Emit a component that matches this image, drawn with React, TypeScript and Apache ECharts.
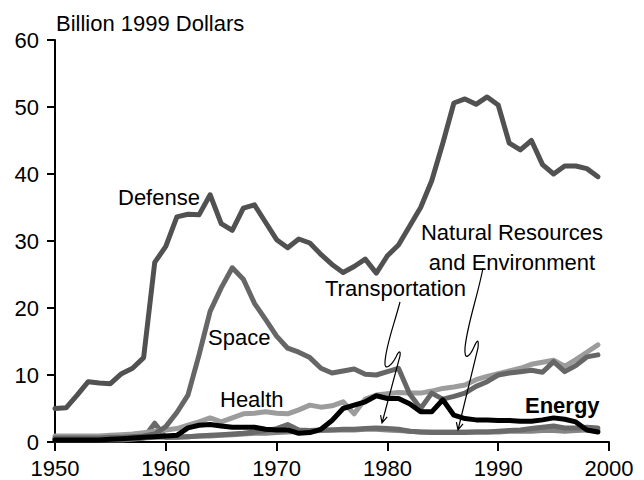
import React, { useEffect, useRef } from "react";
import * as echarts from "echarts";

const years = [
  1950, 1951, 1952, 1953, 1954, 1955, 1956, 1957, 1958, 1959,
  1960, 1961, 1962, 1963, 1964, 1965, 1966, 1967, 1968, 1969,
  1970, 1971, 1972, 1973, 1974, 1975, 1976, 1977, 1978, 1979,
  1980, 1981, 1982, 1983, 1984, 1985, 1986, 1987, 1988, 1989,
  1990, 1991, 1992, 1993, 1994, 1995, 1996, 1997, 1998, 1999,
];

const defense = [
  5.0, 5.1, 7.0, 9.0, 8.8, 8.7, 10.2, 11.0, 12.6, 26.8,
  29.2, 33.6, 34.0, 33.9, 36.9, 32.6, 31.6, 34.9, 35.4, 32.8,
  30.2, 29.0, 30.3, 29.7, 28.0, 26.5, 25.3, 26.2, 27.3, 25.2,
  27.8, 29.4, 32.2, 35.0, 39.0, 44.6, 50.6, 51.2, 50.4, 51.5,
  50.3, 44.6, 43.6, 45.0, 41.4, 40.0, 41.2, 41.2, 40.8, 39.6,
];

const space = [
  0.6, 0.6, 0.6, 0.6, 0.6, 0.7, 0.7, 0.8, 0.9, 1.2,
  2.3, 4.4, 7.0, 13.0, 19.5, 23.0, 26.0, 24.3, 20.7, 18.3,
  15.8, 14.0, 13.4, 12.6, 11.0, 10.3, 10.6, 10.9, 10.1, 10.0,
  10.5, 11.0, 7.2, 5.0, 7.3, 6.4, 6.8, 7.3, 8.3, 9.0,
  10.0, 10.3, 10.5, 10.7, 10.4, 12.0, 10.5, 11.4, 12.7, 13.0,
];

const health = [
  0.9, 0.9, 0.9, 0.9, 0.9, 1.0, 1.1, 1.2, 1.4, 1.6,
  1.8, 2.0, 2.5, 3.0, 3.6, 3.0, 3.6, 4.2, 4.3, 4.5,
  4.3, 4.2, 4.8, 5.5, 5.2, 5.4, 6.0, 4.2, 6.4, 7.0,
  7.2, 7.4, 7.3, 7.3, 7.6, 8.0, 8.2, 8.5, 9.3, 9.8,
  10.2, 10.6, 11.0, 11.6, 11.9, 12.2, 11.3, 12.3, 13.4, 14.5,
];

const energy = [
  0.3, 0.3, 0.3, 0.3, 0.3, 0.4, 0.5, 0.6, 0.7, 0.8,
  0.9, 1.0, 2.1, 2.5, 2.6, 2.4, 2.2, 2.2, 2.2, 1.9,
  1.8, 1.8, 1.3, 1.4, 1.9, 3.2, 5.0, 5.5, 6.0, 6.9,
  6.5, 6.5, 5.7, 4.5, 4.5, 6.3, 4.0, 3.5, 3.3, 3.3,
  3.2, 3.2, 3.1, 3.1, 3.3, 3.6, 3.4, 3.0, 1.8, 1.5,
];

const transportation = [
  0.3, 0.3, 0.3, 0.3, 0.3, 0.3, 0.3, 0.4, 0.6, 2.8,
  0.7, 0.7, 0.8, 0.9, 1.0, 1.1, 1.2, 1.3, 1.5, 1.7,
  2.0, 2.6, 1.8, 1.7, 1.8, 1.8, 1.9, 1.9, 2.0, 2.1,
  2.0, 1.9, 1.6, 1.5, 1.4, 1.4, 1.4, 1.4, 1.5, 1.5,
  1.6, 1.7, 1.8, 2.0, 2.2, 2.4, 2.1, 2.1, 2.2, 2.1,
];

const naturalResources = [
  0.5, 0.5, 0.5, 0.5, 0.5, 0.5, 0.6, 0.6, 0.6, 0.7,
  0.7, 0.8, 0.8, 0.9, 0.9, 1.0, 1.1, 1.2, 1.3, 1.3,
  1.4, 1.5, 1.6, 1.6, 1.7, 1.8, 1.8, 1.8, 1.9, 1.9,
  1.8, 1.7, 1.6, 1.5, 1.5, 1.5, 1.5, 1.5, 1.5, 1.5,
  1.5, 1.6, 1.6, 1.6, 1.7, 1.7, 1.6, 1.7, 1.8, 1.8,
];

const xTicks = { min: 1950, max: 2000, interval: 10 };
const yTicks = { min: 0, max: 60, interval: 10 };

const FONT = '"Liberation Sans", Arial, Helvetica, sans-serif';

const arrowTransport =
  "M400,302 C394,325 386,345 385,362 C384,372 392,365 396,357 C398,352 401,349 400,356 L382,423 M387.2,416.9 L382,423 L380.6,415.1";
const arrowNatural =
  "M483,268 C478,295 467,325 465,348 C464,362 470,356 474,347 C477,340 479,338 478,348 L458,430 M463,423.8 L458,430 L456.4,422.2";

function pairs(vals: number[]) {
  return years.map((y, i) => [y, vals[i]]);
}

export default function App() {
  const ref = useRef<HTMLDivElement>(null);

  useEffect(() => {
    if (!ref.current) return;
    echarts.graphic.registerShape(
      "arrowTransport",
      echarts.graphic.extendPath(arrowTransport, {}) as any
    );
    echarts.graphic.registerShape(
      "arrowNatural",
      echarts.graphic.extendPath(arrowNatural, {}) as any
    );
    const chart = echarts.init(ref.current, undefined, { renderer: "svg" });

    const mk = (name: string, vals: number[], color: string, z: number) => ({
      name,
      type: "line",
      data: pairs(vals),
      showSymbol: false,
      symbol: "none",
      silent: true,
      z,
      lineStyle: { color, width: 5, cap: "round", join: "round" },
      emphasis: { disabled: true },
    });

    const txt = (
      text: string,
      x: number,
      y: number,
      align: string = "left",
      bold = false
    ) => ({
      type: "text",
      x,
      y,
      silent: true,
      style: {
        text,
        fill: "#000",
        font: `${bold ? "bold " : ""}22px ${FONT}`,
        textAlign: align,
        textVerticalAlign: "middle",
      },
    });

    chart.setOption({
      animation: false,
      backgroundColor: "#fff",
      grid: { left: 55, right: 35, top: 40, bottom: 38 },
      xAxis: {
        type: "value",
        min: xTicks.min,
        max: xTicks.max,
        interval: xTicks.interval,
        axisLine: { show: true, onZero: false, lineStyle: { color: "#000", width: 2 } },
        axisTick: { show: true, length: 9, lineStyle: { color: "#000", width: 2 } },
        axisLabel: {
          color: "#000",
          fontSize: 22,
          fontFamily: FONT,
          margin: 15,
          formatter: (v: number) => String(v),
        },
        splitLine: { show: false },
      },
      yAxis: {
        type: "value",
        min: yTicks.min,
        max: yTicks.max,
        interval: yTicks.interval,
        axisLine: { show: true, lineStyle: { color: "#000", width: 2 } },
        axisTick: { show: true, length: 8, lineStyle: { color: "#000", width: 2 } },
        axisLabel: { color: "#000", fontSize: 22, fontFamily: FONT, margin: 16 },
        splitLine: { show: false },
      },
      series: [
        mk("Natural Resources and Environment", naturalResources, "#858585", 1),
        mk("Transportation", transportation, "#6a6a6a", 2),
        mk("Health", health, "#9c9c9c", 3),
        mk("Space", space, "#666666", 4),
        mk("Defense", defense, "#515151", 5),
        mk("Energy", energy, "#000000", 6),
      ],
      graphic: [
        txt("Billion 1999 Dollars", 56, 23),
        txt("Defense", 118, 197),
        txt("Space", 208, 337),
        txt("Health", 220, 399),
        txt("Energy", 525, 405, "left", true),
        txt("Natural Resources", 512, 232, "center"),
        txt("and Environment", 512, 262, "center"),
        txt("Transportation", 325, 288),
        {
          type: "arrowTransport",
          x: 0,
          y: 0,
          silent: true,
          z: 100,
          style: { stroke: "#000", fill: "none", lineWidth: 1.2 },
        },
        {
          type: "arrowNatural",
          x: 0,
          y: 0,
          silent: true,
          z: 100,
          style: { stroke: "#000", fill: "none", lineWidth: 1.2 },
        },
      ],
    } as any);

    return () => chart.dispose();
  }, []);

  return (
    <div
      ref={ref}
      style={{ position: "fixed", left: 0, top: 0, width: 644, height: 480 }}
    />
  );
}
